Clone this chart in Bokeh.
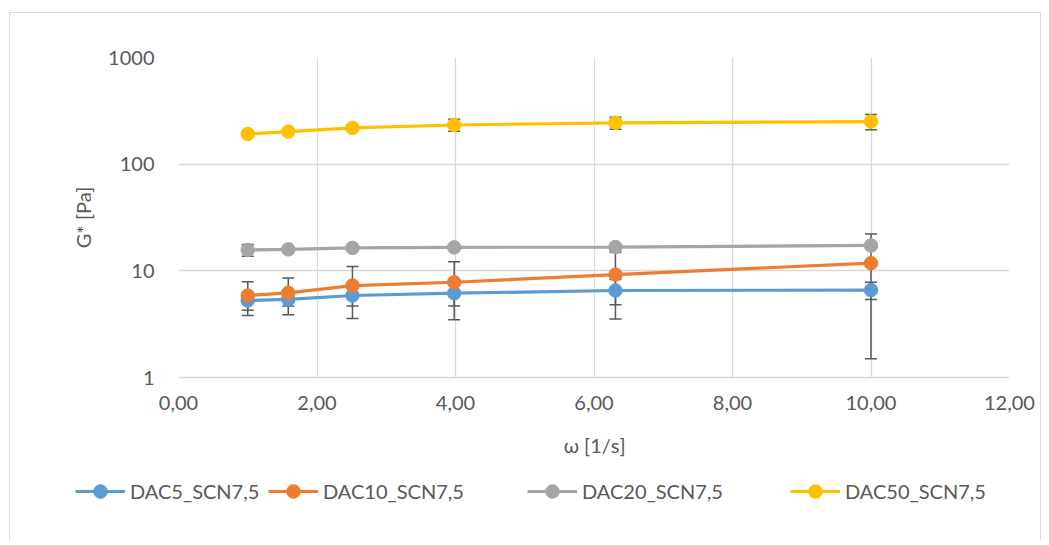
from bokeh.plotting import figure
from bokeh.layouts import column
from bokeh.models import (ColumnDataSource, Whisker, Legend, LegendItem,
                          FixedTicker, Range1d, TeeHead)
from bokeh.embed import file_html
from bokeh.resources import INLINE

# ---- data ----
omega = [1.0, 1.585, 2.512, 3.981, 6.31, 10.0]
dac5 = [5.27, 5.40, 5.87, 6.17, 6.54, 6.60]
dac5_err = [1.00, 0.72, 1.20, 1.50, 1.74, 1.20]
dac10 = [5.87, 6.22, 7.28, 7.82, 9.23, 11.8]
dac10_err = [2.05, 2.35, 3.70, 4.35, 5.70, 10.3]
dac20 = [15.7, 15.9, 16.4, 16.6, 16.7, 17.3]
dac20_err = [2.0, 0.5, 0.6, 0.6, 0.6, 0.8]
dac50 = [192, 202, 219, 233, 244, 251]
dac50_err = [5, 5, 8, 30, 32, 41]

series_names = ["DAC5_SCN7,5", "DAC10_SCN7,5", "DAC20_SCN7,5", "DAC50_SCN7,5"]
series_vals = [dac5, dac10, dac20, dac50]
series_errs = [dac5_err, dac10_err, dac20_err, dac50_err]
colors = ["#5B9BD5", "#ED7D31", "#A5A5A5", "#FFC000"]

x_ticks = [0, 2, 4, 6, 8, 10, 12]
x_tick_labels = ["0,00", "2,00", "4,00", "6,00", "8,00", "10,00", "12,00"]
y_ticks = [1, 10, 100, 1000]
y_tick_labels = ["1", "10", "100", "1000"]
x_title = "ω [1/s]"
y_title = "G* [Pa]"

FONT = "Lato"
FS = "20px"
TXT = "#595959"
GRID = "#D9D9D9"

p = figure(width=1030, height=447, frame_width=831, frame_height=320,
           y_axis_type="log", x_range=Range1d(0, 12), y_range=Range1d(1, 1000),
           output_backend="svg", toolbar_location=None,
           min_border_left=168, min_border_top=44, min_border_right=31,
           min_border_bottom=83)
p.outline_line_color = None
p.background_fill_color = "white"
p.border_fill_color = "white"
p.frame_align = False

# grids
p.xgrid.ticker = FixedTicker(ticks=x_ticks)
p.ygrid.ticker = FixedTicker(ticks=y_ticks)
for g in (p.xgrid[0], p.ygrid[0]):
    g.grid_line_color = GRID
    g.grid_line_width = 1.3
p.ygrid.minor_grid_line_color = None

# axes
xa = p.xaxis[0]
xa.ticker = FixedTicker(ticks=x_ticks)
xa.major_label_overrides = {t: l for t, l in zip(x_ticks, x_tick_labels)}
xa.axis_line_color = GRID
xa.axis_line_width = 1.3
xa.major_tick_line_color = None
xa.minor_tick_line_color = None
xa.major_label_standoff = 12
xa.axis_label = x_title
xa.axis_label_standoff = 20

ya = p.yaxis[0]
ya.ticker = FixedTicker(ticks=y_ticks)
ya.major_label_overrides = {t: l for t, l in zip(y_ticks, y_tick_labels)}
ya.axis_line_color = None
ya.major_tick_line_color = None
ya.minor_tick_line_color = None
ya.major_label_standoff = 18
ya.axis_label = y_title
ya.axis_label_standoff = 10

for a in (xa, ya):
    a.major_label_text_font = FONT
    a.major_label_text_font_size = FS
    a.major_label_text_color = TXT
    a.axis_label_text_font = FONT
    a.axis_label_text_font_size = FS
    a.axis_label_text_color = TXT
    a.axis_label_text_font_style = "normal"

# error bars (under markers)
for vals, errs in zip(series_vals, series_errs):
    src = ColumnDataSource(dict(x=omega,
                                upper=[v + e for v, e in zip(vals, errs)],
                                lower=[max(v - e, 1.0001) for v, e in zip(vals, errs)]))
    w = Whisker(source=src, base="x", upper="upper", lower="lower",
                line_color="#595959", line_width=1.5, level="underlay",
                upper_head=TeeHead(size=12, line_color="#595959", line_width=1.5),
                lower_head=TeeHead(size=12, line_color="#595959", line_width=1.5))
    p.add_layout(w)

for vals, col in zip(series_vals, colors):
    src = ColumnDataSource(dict(x=omega, y=vals))
    p.line("x", "y", source=src, line_color=col, line_width=3.2)
    p.scatter("x", "y", source=src, size=13.5, fill_color=col, line_color=col)

# ---- legend strip (separate figure so the legend is not clipped) ----
p2 = figure(width=1030, height=80, x_range=Range1d(20, 21), y_range=Range1d(0, 1),
            output_backend="svg", toolbar_location=None,
            x_axis_location=None, y_axis_location=None,
            min_border_left=0, min_border_right=0, min_border_top=0, min_border_bottom=0)
p2.outline_line_color = None
p2.grid.visible = False
p2.border_fill_color = "white"
p2.frame_align = False

legend_x = [65, 258, 517, 780]
for name, vals, col, lx in zip(series_names, series_vals, colors, legend_x):
    src = ColumnDataSource(dict(x=omega, y=vals))
    r1 = p2.line("x", "y", source=src, line_color=col, line_width=3.2)
    r2 = p2.scatter("x", "y", source=src, size=13.5, fill_color=col, line_color=col)
    leg = Legend(items=[LegendItem(label=name, renderers=[r1, r2])],
                 location=(lx, 32), orientation="horizontal",
                 padding=0, margin=0, spacing=0,
                 glyph_width=50, glyph_height=34, label_standoff=5,
                 border_line_color=None, background_fill_alpha=0,
                 label_text_font=FONT, label_text_font_size=FS,
                 label_text_color=TXT, label_text_baseline="middle")
    p2.add_layout(leg, "center")

layout = column(p, p2, spacing=0,
                styles={"border-top": "1px solid #D9D9D9",
                        "border-left": "1px solid #D9D9D9",
                        "border-right": "1px solid #D9D9D9",
                        "margin-left": "9px", "margin-top": "12px"})

open("out.html", "w").write(file_html(layout, INLINE))
